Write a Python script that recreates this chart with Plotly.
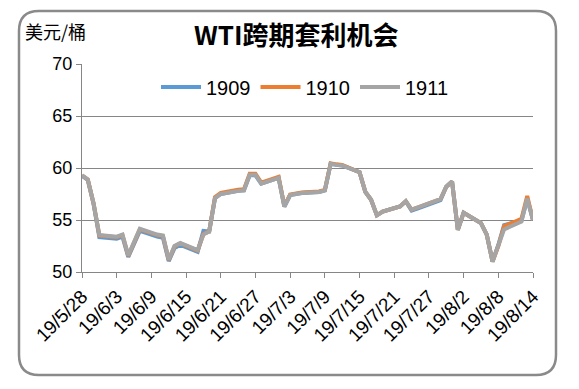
import plotly.graph_objects as go

dates = ["2019-05-28","2019-05-29","2019-05-30","2019-05-31",
         "2019-06-03","2019-06-04","2019-06-05","2019-06-06","2019-06-07",
         "2019-06-10","2019-06-11","2019-06-12","2019-06-13","2019-06-14",
         "2019-06-17","2019-06-18","2019-06-19","2019-06-20","2019-06-21",
         "2019-06-24","2019-06-25","2019-06-26","2019-06-27","2019-06-28",
         "2019-07-01","2019-07-02","2019-07-03","2019-07-05",
         "2019-07-08","2019-07-09","2019-07-10","2019-07-11","2019-07-12",
         "2019-07-15","2019-07-16","2019-07-17","2019-07-18","2019-07-19",
         "2019-07-22","2019-07-23","2019-07-24","2019-07-25","2019-07-26",
         "2019-07-29","2019-07-30","2019-07-31","2019-08-01","2019-08-02",
         "2019-08-05","2019-08-06","2019-08-07","2019-08-08","2019-08-09",
         "2019-08-12","2019-08-13","2019-08-14"]

s1911 = [59.3, 58.9, 56.6, 53.55,
         53.4, 53.6, 51.6, 52.85, 54.15,
         53.6, 53.5, 51.2, 52.5, 52.8,
         52.1, 53.6, 53.9, 57.1, 57.5,
         57.8, 57.85, 59.35, 59.35, 58.5,
         59.05, 56.3, 57.4, 57.6,
         57.7, 57.85, 60.4, 60.3, 60.25,
         59.6, 57.7, 56.95, 55.45, 55.8,
         56.3, 56.8, 56.0, 56.2, 56.4,
         57.0, 58.2, 58.7, 54.05, 55.7,
         54.7, 53.6, 51.0, 52.6, 54.1,
         54.85, 57.1, 55.0]

s1910 = [59.3, 58.9, 56.6, 53.5,
         53.35, 53.55, 51.55, 52.8, 54.1,
         53.55, 53.45, 51.15, 52.45, 52.75,
         52.05, 53.65, 53.9, 57.2, 57.6,
         57.9, 57.95, 59.45, 59.45, 58.6,
         59.15, 56.35, 57.45, 57.65,
         57.75, 57.9, 60.45, 60.35, 60.3,
         59.6, 57.7, 56.95, 55.45, 55.8,
         56.3, 56.8, 56.0, 56.2, 56.4,
         57.0, 58.2, 58.7, 54.05, 55.7,
         54.7, 53.6, 51.0, 52.5, 54.4,
         55.1, 57.3, 55.0]

s1909 = [59.25, 58.85, 56.55, 53.35,
         53.2, 53.4, 51.45, 52.65, 53.95,
         53.4, 53.3, 51.05, 52.3, 52.6,
         51.95, 53.95, 53.9, 57.1, 57.5,
         57.8, 57.85, 59.3, 59.3, 58.5,
         59.05, 56.3, 57.4, 57.6,
         57.7, 57.85, 60.4, 60.3, 60.25,
         59.6, 57.7, 56.95, 55.45, 55.8,
         56.3, 56.8, 55.9, 56.1, 56.3,
         56.9, 58.2, 58.7, 54.05, 55.7,
         54.7, 53.6, 51.0, 52.6, 54.5,
         54.95, 57.0, 55.0]

tick_dates = ["2019-05-28","2019-06-03","2019-06-09","2019-06-15","2019-06-21",
              "2019-06-27","2019-07-03","2019-07-09","2019-07-15","2019-07-21",
              "2019-07-27","2019-08-02","2019-08-08","2019-08-14"]
tick_labels = ["19/5/28","19/6/3","19/6/9","19/6/15","19/6/21","19/6/27","19/7/3",
               "19/7/9","19/7/15","19/7/21","19/7/27","19/8/2","19/8/8","19/8/14"]

series_names = ["1909", "1910", "1911"]
series_colors = ["#5B9BD5", "#ED7D31", "#A5A5A5"]

W, H = 579, 389
L, R, T, B = 82, 46, 64, 117
pw, ph = W - L - R, H - T - B

def px2paper(x, y):
    return (x - L) / pw, (H - B - y) / ph

fig = go.Figure()
for name, vals, col in zip(series_names, [s1909, s1910, s1911], series_colors):
    fig.add_trace(go.Scatter(x=dates, y=vals, name=name, mode="lines",
                             line=dict(color=col, width=4)))

# rounded frame
x0, y0, x1, y1, r = 19, 11, 556, 375, 20
def P(x, y):
    a, b = px2paper(x, y)
    return f"{a:.5f},{b:.5f}"
path = (f"M {P(x0+r,y0)} L {P(x1-r,y0)} Q {P(x1,y0)} {P(x1,y0+r)} "
        f"L {P(x1,y1-r)} Q {P(x1,y1)} {P(x1-r,y1)} L {P(x0+r,y1)} "
        f"Q {P(x0,y1)} {P(x0,y1-r)} L {P(x0,y0+r)} Q {P(x0,y0)} {P(x0+r,y0)} Z")
fig.add_shape(type="path", xref="paper", yref="paper", path=path,
              line=dict(color="#8A8A8A", width=2.5), layer="below")

font_main = "Liberation Sans, Arial, Noto Sans CJK SC, sans-serif"
fig.add_annotation(text="<b>WTI跨期套利机会</b>", xref="paper", yref="paper",
                   x=px2paper(296, 0)[0], y=px2paper(0, 33)[1],
                   showarrow=False, xanchor="center", yanchor="middle",
                   font=dict(size=26, color="#000000", family="Noto Sans CJK SC, sans-serif"))
fig.add_annotation(text="美元/桶", xref="paper", yref="paper",
                   x=px2paper(23, 0)[0], y=px2paper(0, 31)[1],
                   showarrow=False, xanchor="left", yanchor="middle",
                   font=dict(size=18, color="#000000", family="Noto Sans CJK SC, sans-serif"))

fig.update_layout(
    width=W, height=H,
    margin=dict(l=L, r=R, t=T, b=B),
    paper_bgcolor="white", plot_bgcolor="white",
    font=dict(family=font_main, size=17, color="#000000"),
    showlegend=True,
    legend=dict(orientation="h", x=px2paper(305, 0)[0], y=px2paper(0, 87)[1],
                xanchor="center", yanchor="middle", font=dict(size=20),
                bgcolor="rgba(0,0,0,0)", itemwidth=40, tracegroupgap=0),
)
fig.update_xaxes(type="date", range=["2019-05-28", "2019-08-14"],
                 tickvals=tick_dates, ticktext=tick_labels, tickangle=-45,
                 showgrid=False, showline=True, linecolor="#868686", linewidth=1,
                 ticks="outside", ticklen=5, tickcolor="#868686",
                 tickfont=dict(size=19), zeroline=False, automargin=False)
fig.update_yaxes(range=[50, 70], dtick=5, showgrid=True, gridcolor="#868686",
                 gridwidth=1, showline=True, linecolor="#868686", linewidth=1,
                 ticks="outside", ticklen=5, tickcolor="#868686",
                 tickfont=dict(size=18), zeroline=False, automargin=False)

fig.write_html("out.html", config={"displayModeBar": False},
               post_script="document.body.style.margin='0';document.body.style.overflow='hidden';")
